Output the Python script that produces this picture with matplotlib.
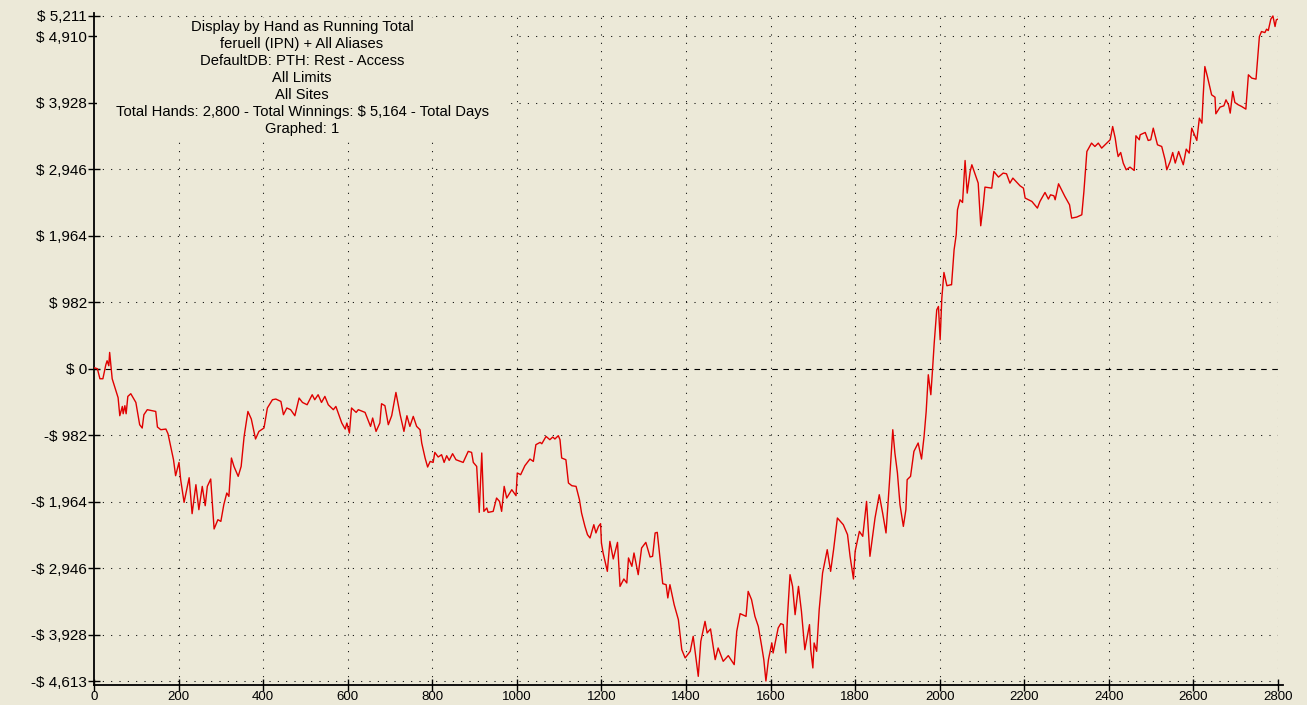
import matplotlib.pyplot as plt
from matplotlib.patches import Rectangle
import numpy as np

# running total (hand number, dollars)
hands = [0, 8, 14, 21, 28, 31, 35, 37, 43, 51, 57, 61, 67, 69, 73, 76, 80, 87, 99, 102,
         108, 114, 118, 126, 146, 150, 158, 170, 175, 181, 188, 193, 201, 205, 213, 225, 232, 241, 248, 256,
         263, 268, 276, 284, 293, 300, 307, 314, 319, 325, 331, 341, 348, 355, 364, 372, 382, 390, 402, 410,
         422, 430, 442, 448, 456, 465, 475, 485, 493, 504, 516, 522, 530, 538, 546, 554, 566, 572, 586, 594,
         598, 604, 609, 620, 625, 641, 654, 659, 667, 676, 680, 688, 696, 704, 714, 724, 733, 740, 747, 755,
         763, 771, 775, 783, 789, 795, 802, 806, 814, 822, 828, 834, 840, 848, 856, 873, 885, 893, 897, 905,
         911, 917, 922, 929, 932, 944, 952, 959, 964, 970, 976, 988, 998, 1001, 1009, 1019, 1031, 1039, 1045, 1055,
         1059, 1069, 1078, 1085, 1090, 1098, 1102, 1106, 1116, 1122, 1130, 1140, 1148, 1153, 1161, 1167, 1173, 1182, 1187, 1193,
         1198, 1200, 1204, 1214, 1220, 1228, 1238, 1244, 1253, 1260, 1264, 1272, 1277, 1287, 1295, 1305, 1315, 1321, 1327, 1332,
         1339, 1345, 1353, 1357, 1362, 1372, 1382, 1390, 1398, 1410, 1417, 1424, 1429, 1435, 1445, 1450, 1458, 1469, 1476, 1488,
         1500, 1514, 1520, 1528, 1542, 1547, 1555, 1563, 1571, 1579, 1584, 1589, 1595, 1603, 1606, 1618, 1624, 1630, 1636, 1640,
         1646, 1652, 1658, 1666, 1673, 1681, 1692, 1695, 1700, 1703, 1709, 1715, 1723, 1734, 1742, 1749, 1758, 1772, 1782, 1788,
         1796, 1800, 1810, 1818, 1827, 1835, 1847, 1857, 1865, 1873, 1881, 1889, 1894, 1900, 1906, 1914, 1920, 1923, 1931, 1939,
         1949, 1957, 1963, 1968, 1973, 1979, 1983, 1987, 1993, 1997, 2001, 2005, 2010, 2017, 2026, 2028, 2034, 2039, 2042, 2048,
         2054, 2060, 2065, 2072, 2076, 2087, 2091, 2097, 2103, 2107, 2123, 2128, 2139, 2150, 2158, 2166, 2173, 2184, 2190, 2198,
         2202, 2218, 2231, 2237, 2249, 2257, 2262, 2270, 2273, 2281, 2296, 2307, 2312, 2324, 2336, 2341, 2348, 2359, 2367, 2375,
         2383, 2395, 2403, 2409, 2415, 2419, 2422, 2428, 2434, 2441, 2450, 2460, 2464, 2472, 2474, 2486, 2493, 2499, 2505, 2515,
         2525, 2533, 2537, 2545, 2551, 2557, 2565, 2576, 2583, 2590, 2596, 2608, 2614, 2620, 2623, 2627, 2633, 2643, 2651, 2653,
         2663, 2672, 2677, 2683, 2687, 2693, 2698, 2706, 2714, 2724, 2730, 2738, 2748, 2756, 2761, 2769, 2773, 2777, 2783, 2788,
         2793, 2796, 2800]
winnings = [15, 0, -148, -148, 59, 118, 44, 241, -148, -310, -428, -694, -557, -665, -546, -665, -409, -369, -498, -605,
            -827, -876, -679, -605, -631, -861, -901, -891, -960, -1137, -1344, -1580, -1384, -1639, -1974, -1610, -2141, -1713, -2082, -1738,
            -2023, -1738, -1629, -2367, -2230, -2255, -2008, -1836, -1886, -1319, -1443, -1590, -1443, -1000, -631, -743, -1038, -926, -876, -580,
            -458, -448, -483, -679, -580, -605, -694, -433, -498, -532, -384, -458, -384, -498, -409, -532, -605, -557, -802, -891,
            -802, -950, -580, -645, -605, -645, -852, -728, -926, -802, -517, -546, -827, -694, -350, -679, -926, -694, -852, -704,
            -852, -901, -1097, -1319, -1452, -1369, -1384, -1236, -1304, -1270, -1384, -1285, -1354, -1255, -1344, -1384, -1221, -1236, -1384, -1443,
            -2122, -1245, -2107, -2057, -2122, -2107, -1910, -1960, -2107, -1738, -1910, -1787, -1875, -1540, -1565, -1432, -1334, -1369, -1122, -1088,
            -1108, -1000, -1048, -1009, -1038, -989, -1048, -1319, -1344, -1688, -1728, -1738, -1934, -2131, -2329, -2451, -2500, -2304, -2426, -2329,
            -2289, -2574, -2722, -2993, -2550, -2810, -2565, -3215, -3106, -3165, -2795, -2919, -2722, -3042, -2648, -2565, -2781, -2771, -2426, -2417,
            -2820, -3175, -3190, -3386, -3190, -3485, -3707, -4150, -4272, -4175, -3953, -4297, -4544, -4027, -3732, -3903, -3844, -4297, -4125, -4322,
            -4238, -4371, -3879, -3618, -3658, -3289, -3411, -3658, -3806, -4101, -4297, -4613, -4297, -4051, -4199, -3829, -3766, -3780, -4199, -3658,
            -3042, -3215, -3633, -3215, -3584, -4150, -3780, -4150, -4420, -4051, -4175, -3559, -3017, -2673, -2993, -2673, -2205, -2304, -2451, -2771,
            -3106, -2698, -2403, -2476, -1960, -2771, -2205, -1861, -2131, -2426, -1688, -901, -1245, -1540, -2008, -2329, -2082, -1639, -1590, -1221,
            -1097, -1334, -1000, -631, -89, -384, -15, 380, 871, 920, 428, 1044, 1422, 1226, 1240, 1240, 1757, 1979, 2348, 2496,
            2456, 3076, 2594, 2914, 3013, 2816, 2742, 2112, 2422, 2683, 2668, 2914, 2831, 2890, 2880, 2742, 2816, 2742, 2702, 2668,
            2521, 2471, 2373, 2471, 2604, 2506, 2569, 2555, 2496, 2732, 2545, 2422, 2225, 2240, 2274, 2618, 3209, 3333, 3283, 3333,
            3259, 3333, 3382, 3578, 3407, 3234, 3135, 3194, 3038, 2939, 2978, 2929, 3441, 3382, 3456, 3490, 3372, 3382, 3554, 3308,
            3283, 3086, 2939, 3062, 3194, 3038, 3209, 3013, 3244, 3185, 3554, 3372, 3702, 3628, 4021, 4464, 4317, 4046, 4012, 3766,
            3865, 3884, 3972, 3899, 3776, 4095, 3933, 3899, 3874, 3835, 4342, 4293, 4278, 4907, 4981, 4966, 5016, 4996, 5164, 5211,
            5055, 5154, 5164]

y_ticks = [5211, 4910, 3928, 2946, 1964, 982, 0, -982, -1964, -2946, -3928, -4613]
x_ticks = np.arange(0, 2801, 200)

header = ['Display by Hand as Running Total',
          'feruell (IPN) + All Aliases',
          'DefaultDB: PTH: Rest - Access',
          'All Limits',
          'All Sites',
          'Total Hands: 2,800 - Total Winnings: $ 5,164 - Total Days',
          'Graphed: 1']

def money(v):
    if v < 0:
        return f'-$ {-v:,}'
    return f'$ {v:,}'

bg = '#ECE9D8'
plt.rcParams['font.family'] = ['Liberation Sans', 'DejaVu Sans']

W, H = 1307, 705
fig = plt.figure(figsize=(W / 100, H / 100), dpi=100, facecolor=bg)
ax = fig.add_axes([94 / W, 1 - 685 / H, (1278 - 94) / W, (685 - 13) / H])
ax.set_facecolor(bg)

ax.set_xlim(0, 2800)
ax.set_ylim(-4672, 5255)

# grid: dotted, zero line dashed
dots = (0, (1, 7))
for v in y_ticks:
    if v == 0:
        ax.axhline(v, color='black', lw=0.8, ls=(0, (5, 5)), zorder=1)
    else:
        ax.axhline(v, color='black', lw=0.75, ls=dots, zorder=1)
for h in x_ticks[1:]:
    ax.axvline(h, color='black', lw=0.75, ls=dots, zorder=1)

ax.plot(hands, winnings, color='#E00000', lw=1.0, zorder=3)

for s in ['top', 'right']:
    ax.spines[s].set_visible(False)
for s in ['left', 'bottom']:
    ax.spines[s].set_linewidth(1.3)
    ax.spines[s].set_color('black')
# bottom axis pokes out a little past 2800
ax.plot([2800, 2813], [-4672, -4672], color='black', lw=1.3, clip_on=False)

ax.set_yticks(y_ticks)
ax.set_yticklabels([money(v) for v in y_ticks])
ax.set_xticks(x_ticks)
ax.set_xticklabels([str(h) for h in x_ticks])
ax.tick_params(axis='y', direction='inout', length=8, width=1, labelsize=11, pad=1)
ax.tick_params(axis='x', direction='inout', length=8, width=1, labelsize=9.5, pad=0)

# header box hides the grid behind the text
fig.patches.append(Rectangle((97 / W, 1 - 139 / H), (505 - 97) / W, (139 - 18) / H,
                             transform=fig.transFigure, facecolor=bg, edgecolor='none', zorder=5))
for i, line in enumerate(header):
    fig.text(302 / W, 1 - (31 + 17 * i) / H, line, ha='center', va='baseline', fontsize=10.6, zorder=6)

plt.savefig('out.png', dpi=100, facecolor=bg)
